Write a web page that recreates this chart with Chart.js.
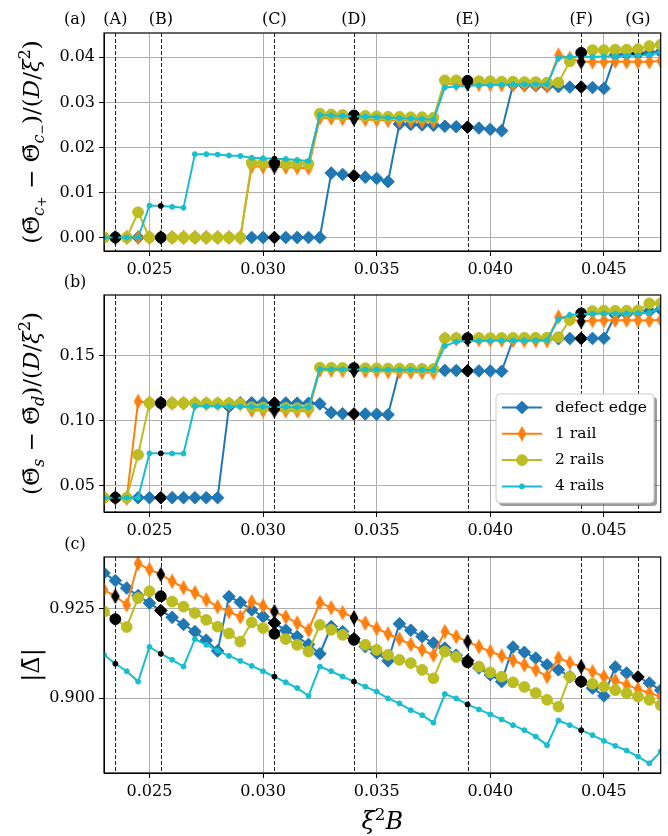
<!DOCTYPE html>
<html>
<head>
<meta charset="utf-8">
<script src="https://cdn.jsdelivr.net/npm/chart.js@4.4.1/dist/chart.umd.min.js"></script>
<style>
  html, body { margin: 0; padding: 0; background: #fff; }
  #wrap { position: relative; width: 668px; height: 836px; }
  #wrap canvas { position: absolute; left: 0; top: 0; }
</style>
</head>
<body>
<div id="wrap">
  <canvas id="pa" width="668" height="836"></canvas>
  <canvas id="pb" width="668" height="836"></canvas>
  <canvas id="pc" width="668" height="836"></canvas>
</div>
<script>
// x values (xi^2 B)
const xVals = [0.0230, 0.0235, 0.0240, 0.0245, 0.0250, 0.0255, 0.0260, 0.0265, 0.0270, 0.0275,
               0.0280, 0.0285, 0.0290, 0.0295, 0.0300, 0.0305, 0.0310, 0.0315, 0.0320, 0.0325,
               0.0330, 0.0335, 0.0340, 0.0345, 0.0350, 0.0355, 0.0360, 0.0365, 0.0370, 0.0375,
               0.0380, 0.0385, 0.0390, 0.0395, 0.0400, 0.0405, 0.0410, 0.0415, 0.0420, 0.0425,
               0.0430, 0.0435, 0.0440, 0.0445, 0.0450, 0.0455, 0.0460, 0.0465, 0.0470, 0.0475];
const xTicks = [0.025, 0.030, 0.035, 0.040, 0.045];
const markX = [0.0235, 0.0255, 0.0305, 0.0340, 0.0390, 0.0440, 0.0465];
const markLabels = ['(A)', '(B)', '(C)', '(D)', '(E)', '(F)', '(G)'];
const seriesNames = ['defect edge', '1 rail', '2 rails', '4 rails'];

// panel (a)
const aDefect = [0, 0, 0, 0, 0, 0, 0, 0, 0, 0, 0, 0, 0, 0, 0, 0, 0, 0, 0, 0,
  0.0143, 0.0140, 0.0137, 0.0134, 0.0131, 0.0124,
  0.0252, 0.0251, 0.0250, 0.0249, 0.0247, 0.0246, 0.0245, 0.0243, 0.0240, 0.0237,
  0.0339, 0.0338, 0.0337, 0.0336, 0.0335, 0.0334, 0.0334, 0.0333, 0.0331,
  0.0405, 0.0407, 0.0409, 0.0410, 0.0412];
const a1Rail = [0, 0, 0, 0, 0, 0, 0, 0, 0, 0, 0, 0, 0,
  0.0158, 0.0157, 0.0157, 0.0156, 0.0155, 0.0154,
  0.0266, 0.0265, 0.0264, 0.0263, 0.0262, 0.0261, 0.0260, 0.0260, 0.0259, 0.0258, 0.0258,
  0.0342, 0.0341, 0.0341, 0.0340, 0.0340, 0.0339, 0.0339, 0.0338, 0.0338, 0.0337,
  0.0405, 0.0398, 0.0390, 0.0390, 0.0390, 0.0391, 0.0390, 0.0390, 0.0390, 0.0392];
const a2Rails = [0, 0, 0, 0.0056, 0, 0, 0, 0, 0, 0, 0, 0, 0,
  0.0166, 0.0165, 0.0165, 0.0164, 0.0164, 0.0163,
  0.0275, 0.0273, 0.0272, 0.0271, 0.0270, 0.0269, 0.0268, 0.0268, 0.0267, 0.0267, 0.0266,
  0.0349, 0.0349, 0.0348, 0.0347, 0.0347, 0.0346, 0.0346, 0.0345, 0.0345, 0.0344, 0.0344,
  0.0391, 0.0410, 0.0416, 0.0416, 0.0417, 0.0417, 0.0418, 0.0425, 0.0428];
const a4Rails = [0, 0, 0, 0,
  0.0071, 0.0070, 0.0068, 0.0066,
  0.0185, 0.0185, 0.0184, 0.0182, 0.0181, 0.0177, 0.0176, 0.0175, 0.0174, 0.0172, 0.0170,
  0.0272, 0.0271, 0.0270, 0.0269, 0.0268, 0.0267, 0.0266, 0.0265, 0.0264, 0.0263, 0.0262,
  0.0333, 0.0335, 0.0337, 0.0338, 0.0338, 0.0339, 0.0340, 0.0340, 0.0340, 0.0340,
  0.0398, 0.0401, 0.0401, 0.0401, 0.0402, 0.0402, 0.0403, 0.0404, 0.0405, 0.0412];
const aTicks = [0.00, 0.01, 0.02, 0.03, 0.04];

// panel (b)
const bDefect = [0.041, 0.041, 0.041, 0.041, 0.041, 0.041, 0.041, 0.041, 0.041, 0.041, 0.041,
  0.1110, 0.1140, 0.1140, 0.1140, 0.1138, 0.1138, 0.1137, 0.1136, 0.1132,
  0.1064, 0.1056, 0.1054, 0.1054, 0.1052, 0.1048,
  0.1392, 0.1392, 0.1391, 0.1390, 0.1389, 0.1388, 0.1386, 0.1385, 0.1384, 0.1382,
  0.1625, 0.1628, 0.1630, 0.1632, 0.1633, 0.1634, 0.1635, 0.1635, 0.1636,
  0.1815, 0.1825, 0.1838, 0.1845, 0.1857];
const b1Rail = [0.041, 0.041, 0.0405,
  0.1150, 0.1140, 0.1138, 0.1137, 0.1136, 0.1135, 0.1134, 0.1133, 0.1132, 0.1131,
  0.1082, 0.1080, 0.1079, 0.1078, 0.1077, 0.1076,
  0.1392, 0.1390, 0.1388, 0.1386, 0.1384, 0.1382, 0.1380, 0.1378, 0.1376, 0.1374, 0.1372,
  0.1632, 0.1630, 0.1628, 0.1626, 0.1624, 0.1622, 0.1620, 0.1619, 0.1618, 0.1617,
  0.1800, 0.1785, 0.1765, 0.1772, 0.1774, 0.1775, 0.1775, 0.1774, 0.1773, 0.1778];
const b2Rails = [0.041, 0.041, 0.041,
  0.0740,
  0.1138, 0.1138, 0.1137, 0.1137, 0.1136, 0.1136, 0.1135, 0.1135, 0.1134,
  0.1105, 0.1103, 0.1102, 0.1100, 0.1098, 0.1096,
  0.1410, 0.1409, 0.1408, 0.1407, 0.1406, 0.1405, 0.1404, 0.1403, 0.1402, 0.1401, 0.1400,
  0.1636, 0.1637, 0.1637, 0.1638, 0.1638, 0.1639, 0.1639, 0.1640, 0.1640, 0.1641, 0.1645,
  0.1777, 0.1828, 0.1845, 0.1848, 0.1848, 0.1848, 0.1850, 0.1905, 0.1905];
const b4Rails = [0.041, 0.041, 0.041, 0.041,
  0.0751, 0.0751, 0.0750, 0.0750,
  0.1115, 0.1114, 0.1113, 0.1112, 0.1111, 0.1110, 0.1109, 0.1108, 0.1107, 0.1106, 0.1105,
  0.1398, 0.1397, 0.1397, 0.1396, 0.1396, 0.1395, 0.1395, 0.1394, 0.1394, 0.1393, 0.1393,
  0.1577, 0.1610, 0.1615, 0.1616, 0.1617, 0.1618, 0.1619, 0.1620, 0.1621, 0.1622,
  0.1782, 0.1815, 0.1822, 0.1825, 0.1826, 0.1827, 0.1828, 0.1829, 0.1832, 0.1870];
const bTicks = [0.05, 0.10, 0.15];

// panel (c)
const cDefect = [0.9350, 0.9329, 0.9308, 0.9287, 0.9266, 0.9245, 0.9226, 0.9206, 0.9186, 0.9162, 0.9132,
  0.9284, 0.9268, 0.9247, 0.9228, 0.9210, 0.9190, 0.9172, 0.9150, 0.9124,
  0.9200, 0.9186, 0.9166, 0.9144, 0.9126, 0.9104,
  0.9208, 0.9190, 0.9172, 0.9154, 0.9140, 0.9120, 0.9105, 0.9084, 0.9065, 0.9046,
  0.9143, 0.9128, 0.9112, 0.9093, 0.9079, 0.9060, 0.9046, 0.9028, 0.9006,
  0.9087, 0.9070, 0.9059, 0.9042, 0.9022];
const c1Rail = [0.9303, 0.9285, 0.9261,
  0.9377, 0.9360, 0.9346, 0.9327, 0.9309, 0.9295, 0.9275, 0.9256, 0.9242, 0.9227,
  0.9270, 0.9258, 0.9242, 0.9227, 0.9210, 0.9190,
  0.9267, 0.9253, 0.9239, 0.9225, 0.9210, 0.9195, 0.9180, 0.9165, 0.9150, 0.9135, 0.9120,
  0.9186, 0.9172, 0.9158, 0.9144, 0.9130, 0.9118, 0.9105, 0.9093, 0.9079, 0.9060,
  0.9112, 0.9099, 0.9088, 0.9074, 0.9060, 0.9049, 0.9037, 0.9025, 0.9014, 0.9004];
const c2Rails = [0.9242, 0.9221, 0.9199,
  0.9280, 0.9299, 0.9285, 0.9270, 0.9256, 0.9238, 0.9219, 0.9200, 0.9181, 0.9158,
  0.9212, 0.9196, 0.9180, 0.9165, 0.9149, 0.9130,
  0.9205, 0.9191, 0.9177, 0.9163, 0.9149, 0.9135, 0.9121, 0.9107, 0.9098, 0.9079, 0.9055,
  0.9130, 0.9115, 0.9100, 0.9088, 0.9072, 0.9060, 0.9044, 0.9031, 0.9014, 0.8995, 0.8976,
  0.9060, 0.9046, 0.9040, 0.9032, 0.9022, 0.9014, 0.9004, 0.8995, 0.8980];
const c4Rails = [0.9121, 0.9096, 0.9075, 0.9046,
  0.9143, 0.9124, 0.9107, 0.9088,
  0.9165, 0.9149, 0.9133, 0.9118, 0.9104, 0.9090, 0.9075, 0.9060, 0.9044, 0.9028, 0.9006,
  0.9088, 0.9075, 0.9060, 0.9046, 0.9032, 0.9018, 0.8999, 0.8985, 0.8966, 0.8952, 0.8931,
  0.9011, 0.8999, 0.8982, 0.8968, 0.8954, 0.8940, 0.8924, 0.8910, 0.8892, 0.8868,
  0.8937, 0.8924, 0.8910, 0.8896, 0.8880, 0.8866, 0.8853, 0.8836, 0.8817, 0.8850];
const cTicks = [0.900, 0.925];

const FONT = "'DejaVu Serif', serif";
const COLORS = ['#1f77b4', '#ff7f0e', '#bcbd22', '#17becf'];

// matplotlib 'd' marker has no Chart.js equivalent, so paint it once
function thinDiamond(color) {
  const c = document.createElement('canvas');
  c.width = 10; c.height = 16;
  const g = c.getContext('2d');
  g.fillStyle = color;
  g.beginPath();
  g.moveTo(5, 0.3); g.lineTo(9.4, 8); g.lineTo(5, 15.7); g.lineTo(0.6, 8);
  g.closePath(); g.fill();
  return c;
}
const dOrange = thinDiamond(COLORS[1]);
const dBlack = thinDiamond('#000');

const MARKERS = [
  { style: 'rectRot', radius: 6.3 },
  { style: 'img', radius: 5 },
  { style: 'circle', radius: 5.4 },
  { style: 'circle', radius: 2.5 }
];

function isBlack(s, x) {
  const marks = s === 0 ? markX.slice(1) : markX.slice(0, 6);
  return marks.some(m => Math.abs(m - x) < 1e-7);
}

function makeSets(series) {
  return series.map((ys, s) => {
    const col = COLORS[s];
    const blk = c => isBlack(s, xVals[c.dataIndex]);
    return {
      label: seriesNames[s],
      data: xVals.map((x, i) => ({ x: x, y: ys[i] })),
      borderColor: col,
      borderWidth: 2,
      tension: 0,
      pointRadius: MARKERS[s].radius,
      pointBorderWidth: 1,
      pointStyle: s === 1 ? (c => blk(c) ? dBlack : dOrange) : MARKERS[s].style,
      pointBackgroundColor: c => blk(c) ? '#000' : col,
      pointBorderColor: c => blk(c) ? '#000' : col,
      order: 3 - s,
      clip: 0
    };
  });
}

function richDraw(ctx, segs, base, cx, cy, rot) {
  const parts = segs.map(s => {
    const lv = s.l || 0;
    const sc = lv === 1 ? 0.7 : lv === 2 ? 0.55 : lv === -1 ? 0.7 : 1;
    const dy = lv === 1 ? 0.2 : lv === 2 ? 0.3 : lv === -1 ? -0.4 : 0;
    const font = (s.i ? 'italic ' : '') + (base * sc).toFixed(1) + 'px ' + FONT;
    ctx.font = font;
    return { t: s.t, font: font, dy: dy * base, w: ctx.measureText(s.t).width };
  });
  const total = parts.reduce((a, p) => a + p.w, 0);
  ctx.save();
  ctx.translate(cx, cy);
  ctx.rotate(rot);
  ctx.fillStyle = '#000';
  ctx.textAlign = 'left';
  ctx.textBaseline = 'alphabetic';
  let x = -total / 2;
  for (const p of parts) {
    ctx.font = p.font;
    ctx.fillText(p.t, x, base * 0.35 + p.dy);
    x += p.w;
  }
  ctx.restore();
}

const labA = [{ t: '(' }, { t: 'Θ\u0304' }, { t: 'c', i: 1, l: 1 }, { t: '+', l: 2 }, { t: ' − ' },
  { t: 'Θ\u0304' }, { t: 'c', i: 1, l: 1 }, { t: '−', l: 2 }, { t: ')/(' }, { t: 'D', i: 1 },
  { t: '/' }, { t: 'ξ', i: 1 }, { t: '2', l: -1 }, { t: ')' }];
const labB = [{ t: '(' }, { t: 'Θ\u0304' }, { t: 's', i: 1, l: 1 }, { t: ' − ' },
  { t: 'Θ\u0304' }, { t: 'd', i: 1, l: 1 }, { t: ')/(' }, { t: 'D', i: 1 },
  { t: '/' }, { t: 'ξ', i: 1 }, { t: '2', l: -1 }, { t: ')' }];
const labC = [{ t: '|' }, { t: 'Δ\u0304' }, { t: '|' }];
const xTitle = [{ t: 'ξ', i: 1 }, { t: '2', l: -1 }, { t: 'B', i: 1 }];

function drawLegend(chart) {
  const ctx = chart.ctx;
  const bx = 496, by = 394, bw = 158, bh = 109;
  ctx.save();
  ctx.fillStyle = 'rgba(60,60,60,0.5)';
  ctx.beginPath(); ctx.roundRect(bx + 3, by + 3, bw, bh, 4); ctx.fill();
  ctx.fillStyle = '#fff';
  ctx.strokeStyle = '#cccccc';
  ctx.lineWidth = 1;
  ctx.beginPath(); ctx.roundRect(bx, by, bw, bh, 4); ctx.fill(); ctx.stroke();
  chart.data.datasets.forEach((ds, s) => {
    const ry = 407.5 + s * 26.3;
    ctx.strokeStyle = COLORS[s];
    ctx.lineWidth = 2;
    ctx.beginPath(); ctx.moveTo(502, ry); ctx.lineTo(542, ry); ctx.stroke();
    ctx.fillStyle = COLORS[s];
    ctx.strokeStyle = COLORS[s];
    ctx.lineWidth = 1;
    Chart.helpers.drawPoint(ctx, {
      pointStyle: s === 1 ? dOrange : MARKERS[s].style,
      radius: MARKERS[s].radius, borderWidth: 1, rotation: 0
    }, 522, ry);
    ctx.fillStyle = '#000';
    ctx.font = '15.5px ' + FONT;
    ctx.textAlign = 'left';
    ctx.textBaseline = 'middle';
    ctx.fillText(ds.label, 555, ry);
  });
  ctx.restore();
}

const PANELS = [
  { id: 'pa', series: [aDefect, a1Rail, a2Rails, a4Rails], yMin: -0.0030, yMax: 0.0454, yTicks: aTicks, dec: 2,
    top: 33, bottom: 251, tag: '(a)', tagY: 20, label: labA, labelX: 31, labelSize: 23, topMarks: true },
  { id: 'pb', series: [bDefect, b1Rail, b2Rails, b4Rails], yMin: 0.030, yMax: 0.1969, yTicks: bTicks, dec: 2,
    top: 295, bottom: 512, tag: '(b)', tagY: 283, label: labB, labelX: 31, labelSize: 23, legend: true },
  { id: 'pc', series: [cDefect, c1Rail, c2Rails, c4Rails], yMin: 0.8790, yMax: 0.9395, yTicks: cTicks, dec: 3,
    top: 557, bottom: 773, tag: '(c)', tagY: 545, label: labC, labelX: 31, labelSize: 24, xTitle: true }
];

PANELS.forEach(p => {
  const decor = {
    id: 'decor' + p.id,
    beforeDatasetsDraw(chart) {
      const ctx = chart.ctx, a = chart.chartArea, xs = chart.scales.x;
      ctx.save();
      ctx.strokeStyle = '#222';
      ctx.lineWidth = 1;
      ctx.setLineDash([4, 2]);
      markX.forEach(m => {
        const px = Math.round(xs.getPixelForValue(m)) + 0.5;
        ctx.beginPath(); ctx.moveTo(px, a.top); ctx.lineTo(px, a.bottom); ctx.stroke();
      });
      ctx.restore();
    },
    afterDatasetsDraw(chart) {
      const ctx = chart.ctx, a = chart.chartArea;
      ctx.save();
      ctx.strokeStyle = '#000';
      ctx.lineWidth = 1.2;
      ctx.strokeRect(a.left, a.top, a.right - a.left, a.bottom - a.top);
      ctx.restore();
    },
    afterDraw(chart) {
      const ctx = chart.ctx, a = chart.chartArea, xs = chart.scales.x;
      ctx.save();
      ctx.fillStyle = '#000';
      ctx.font = '16px ' + FONT;
      ctx.textAlign = 'center';
      ctx.textBaseline = 'middle';
      ctx.fillText(p.tag, 75, p.tagY);
      if (p.topMarks) {
        markX.forEach((m, i) => ctx.fillText(markLabels[i], xs.getPixelForValue(m), 20));
      }
      ctx.restore();
      richDraw(ctx, p.label, p.labelSize, p.labelX, (a.top + a.bottom) / 2, -Math.PI / 2);
      if (p.xTitle) richDraw(ctx, xTitle, 24, (a.left + a.right) / 2, 821, 0);
      if (p.legend) drawLegend(chart);
    }
  };

  new Chart(document.getElementById(p.id), {
    type: 'line',
    data: { datasets: makeSets(p.series) },
    options: {
      responsive: false,
      animation: false,
      events: [],
      layout: { padding: { top: p.top, right: 5, left: 0, bottom: 0 } },
      plugins: { legend: { display: false }, tooltip: { enabled: false } },
      scales: {
        x: {
          type: 'linear',
          min: xVals[0],
          max: xVals[xVals.length - 1],
          afterBuildTicks: ax => { ax.ticks = xTicks.map(v => ({ value: v })); },
          afterFit: ax => { ax.height = 836 - p.bottom; },
          ticks: { callback: v => v.toFixed(3), font: { family: FONT, size: 16 }, color: '#000',
                   padding: 4, maxRotation: 0, autoSkip: false },
          grid: { color: '#b0b0b0', lineWidth: 1, tickColor: '#000', tickLength: 5 },
          border: { color: '#000', width: 1 }
        },
        y: {
          min: p.yMin,
          max: p.yMax,
          afterBuildTicks: ax => { ax.ticks = p.yTicks.map(v => ({ value: v })); },
          afterFit: ax => { ax.width = 104; },
          ticks: { callback: v => v.toFixed(p.dec), font: { family: FONT, size: 16 }, color: '#000',
                   padding: 4, autoSkip: false },
          grid: { color: '#b0b0b0', lineWidth: 1, tickColor: '#000', tickLength: 5 },
          border: { color: '#000', width: 1 }
        }
      }
    },
    plugins: [decor]
  });
});
</script>
</body>
</html>
